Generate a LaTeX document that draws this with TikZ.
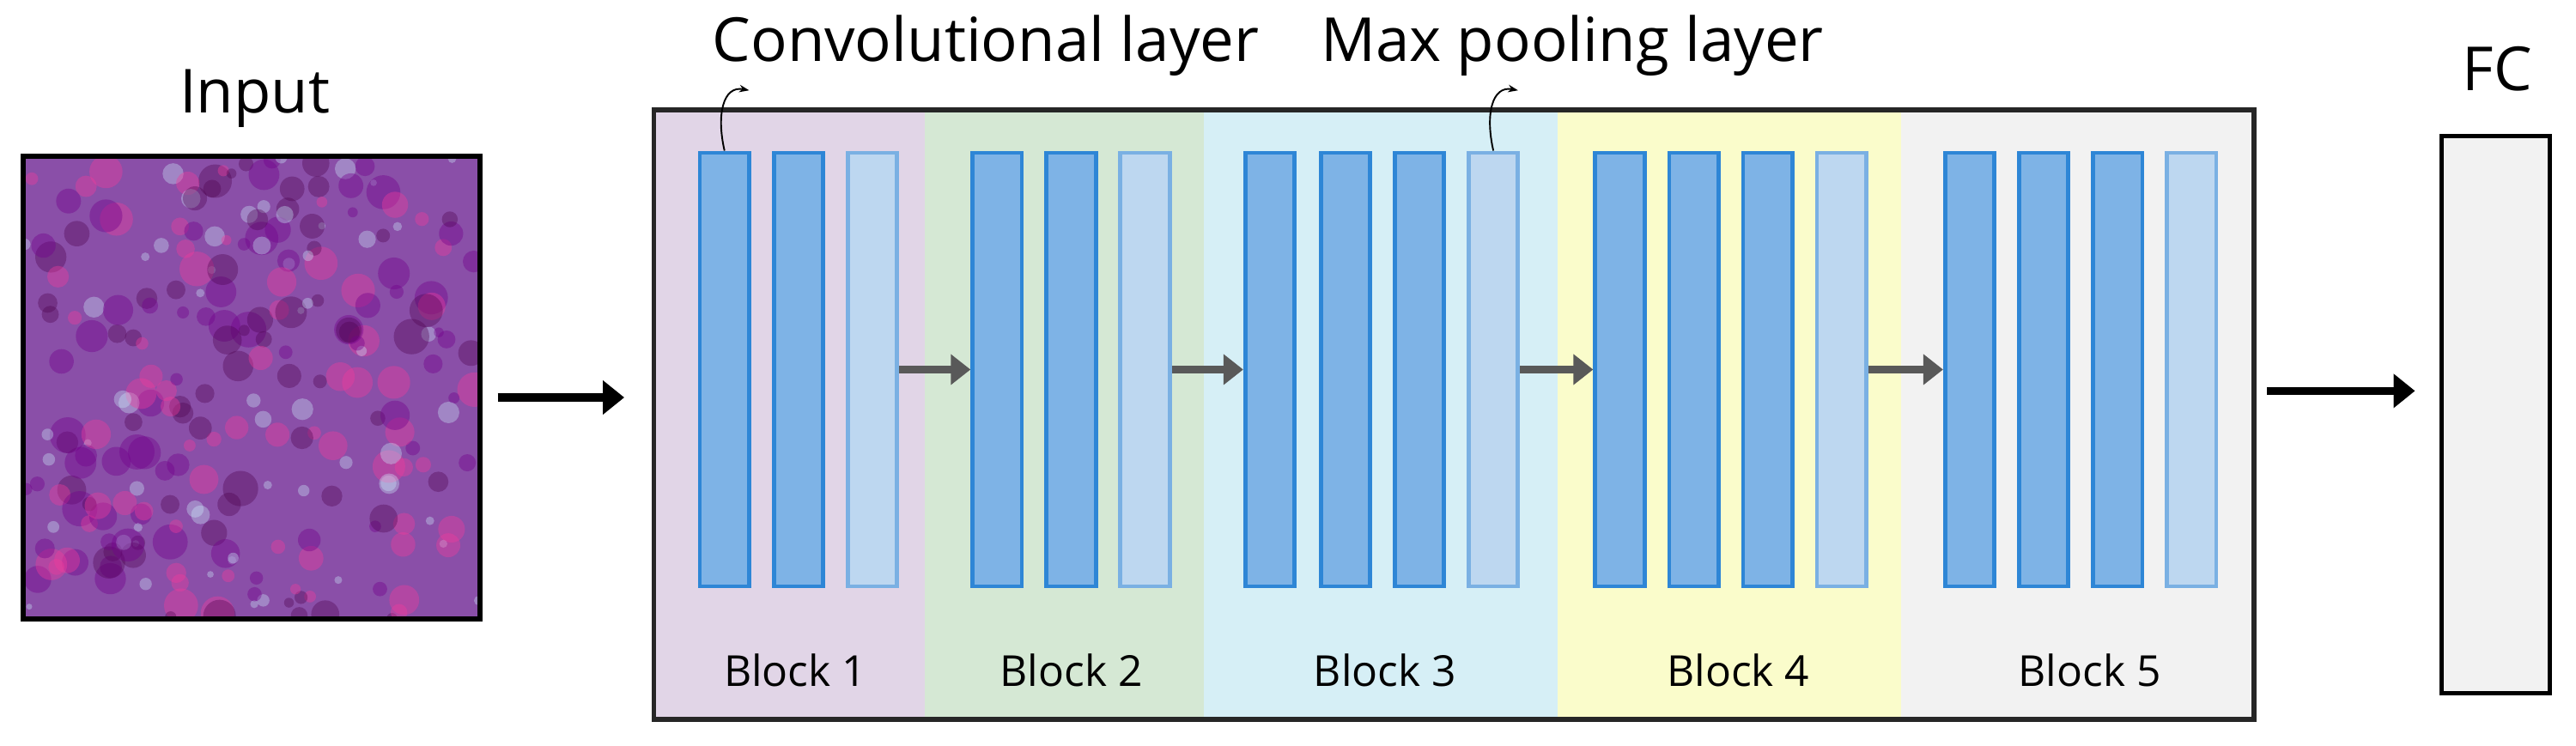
\documentclass[tikz,border=0pt]{standalone}
\usepackage{fontspec}
\setmainfont{Open Sans}
\usetikzlibrary{arrows.meta}
\definecolor{barD}{HTML}{7EB3E6}
\definecolor{barDe}{HTML}{2E86D6}
\definecolor{barL}{HTML}{BDD7F0}
\definecolor{barLe}{HTML}{7AB0E3}
\definecolor{bA}{HTML}{E1D5E7}
\definecolor{bB}{HTML}{D5E8D4}
\definecolor{bC}{HTML}{D6EFF6}
\definecolor{bD}{HTML}{FAFCCB}
\definecolor{bE}{HTML}{F2F2F2}
\definecolor{tissue}{HTML}{8A4FA8}
\begin{document}
\begin{tikzpicture}[x=1pt,y=-1pt,
  dbar/.style={draw=barDe,fill=barD,line width=2.5pt,minimum width=30pt,minimum height=264pt,inner sep=0pt},
  lbar/.style={draw=barLe,fill=barL,line width=2.5pt,minimum width=30pt,minimum height=264pt,inner sep=0pt},
  garrow/.style={draw=black!65,line width=5pt,-{Triangle[length=12pt,width=18pt]}},
  barrow/.style={draw=black,line width=5pt,-{Triangle[length=13pt,width=20pt]}},
  lab/.style={font=\fontsize{37}{40}\selectfont},
  blab/.style={font=\fontsize{26}{29}\selectfont}]
\useasboundingbox (0,0) rectangle (1568,454);
% input image
\begin{scope}
\clip (14,95) rectangle (292,377);
\fill[tissue] (14,95) rectangle (292,377);
\pgfmathsetseed{7}
\foreach \i in {1,...,260}{
  \pgfmathsetmacro\xx{14+278*rnd}
  \pgfmathsetmacro\yy{95+282*rnd}
  \pgfmathsetmacro\rr{3+8*rnd}
  \pgfmathsetmacro\cc{int(4*rnd)}
  \ifcase\cc
    \fill[violet!60!black,opacity=0.35] (\xx,\yy) circle (\rr);
  \or
    \fill[magenta!70!pink,opacity=0.4] (\xx,\yy) circle (\rr);
  \or
    \fill[white!80!cyan,opacity=0.35] (\xx,\yy) circle (\rr*0.6);
  \else
    \fill[purple!60!blue,opacity=0.4] (\xx,\yy) circle (\rr);
  \fi
}
\end{scope}
\node[draw=black,line width=3pt,minimum width=278pt,minimum height=282pt,inner sep=0pt] (img) at (153,236) {};
\node[lab] (inlab) at (155,60) {Input};
% big box backgrounds
\fill[bA] (398,67) rectangle (563,438);
\fill[bB] (563,67) rectangle (733,438);
\fill[bC] (733,67) rectangle (948,438);
\fill[bD] (948,67) rectangle (1157,438);
\fill[bE] (1157,67) rectangle (1372,438);
\node[draw=black!85,line width=3pt,minimum width=974pt,minimum height=371pt,inner sep=0pt] (net) at (885,252.5) {};
% bars
\node[dbar] (a1) at (441,225) {};
\node[dbar] (a2) at (486,225) {};
\node[lbar] (a3) at (531,225) {};
\node[dbar] (b1) at (607,225) {};
\node[dbar] (b2) at (652,225) {};
\node[lbar] (b3) at (697,225) {};
\node[dbar] (c1) at (773,225) {};
\node[dbar] (c2) at (819,225) {};
\node[dbar] (c3) at (864,225) {};
\node[lbar] (c4) at (909,225) {};
\node[dbar] (d1) at (986,225) {};
\node[dbar] (d2) at (1031,225) {};
\node[dbar] (d3) at (1076,225) {};
\node[lbar] (d4) at (1121,225) {};
\node[dbar] (e1) at (1199,225) {};
\node[dbar] (e2) at (1244,225) {};
\node[dbar] (e3) at (1289,225) {};
\node[lbar] (e4) at (1334,225) {};
\draw[garrow] (a3) -- (b1);
\draw[garrow] (b3) -- (c1);
\draw[garrow] (c4) -- (d1);
\draw[garrow] (d4) -- (e1);
% block labels
\node[blab] (l1) at (484,408) {Block 1};
\node[blab] (l2) at (652,408) {Block 2};
\node[blab] (l3) at (843,408) {Block 3};
\node[blab] (l4) at (1058,408) {Block 4};
\node[blab] (l5) at (1272,408) {Block 5};
% top labels
\node[lab] (conv) at (600,28) {Convolutional layer};
\node[lab] (pool) at (957,28) {Max pooling layer};
\coordinate (cs) at (456,55);
\coordinate (ps) at (924,55);
\draw[line width=1pt,-{Stealth[length=6pt]}] (a1.north) .. controls (436,70) and (440,52) .. (cs);
\draw[line width=1pt,-{Stealth[length=6pt]}] (c4.north) .. controls (904,70) and (908,52) .. (ps);
% output
\node[draw=black,fill=bE,line width=2.5pt,minimum width=66pt,minimum height=339pt,inner sep=0pt] (fc) at (1519,252.5) {};
\node[lab] (fclab) at (1520,42) {FC};
\coordinate (oa) at (1380,238);
\coordinate (ob) at (1470,238);
\coordinate (ia) at (303,242);
\draw[barrow] (ia) -- (380,242);
\draw[barrow] (oa) -- (ob);
\end{tikzpicture}
\end{document}
